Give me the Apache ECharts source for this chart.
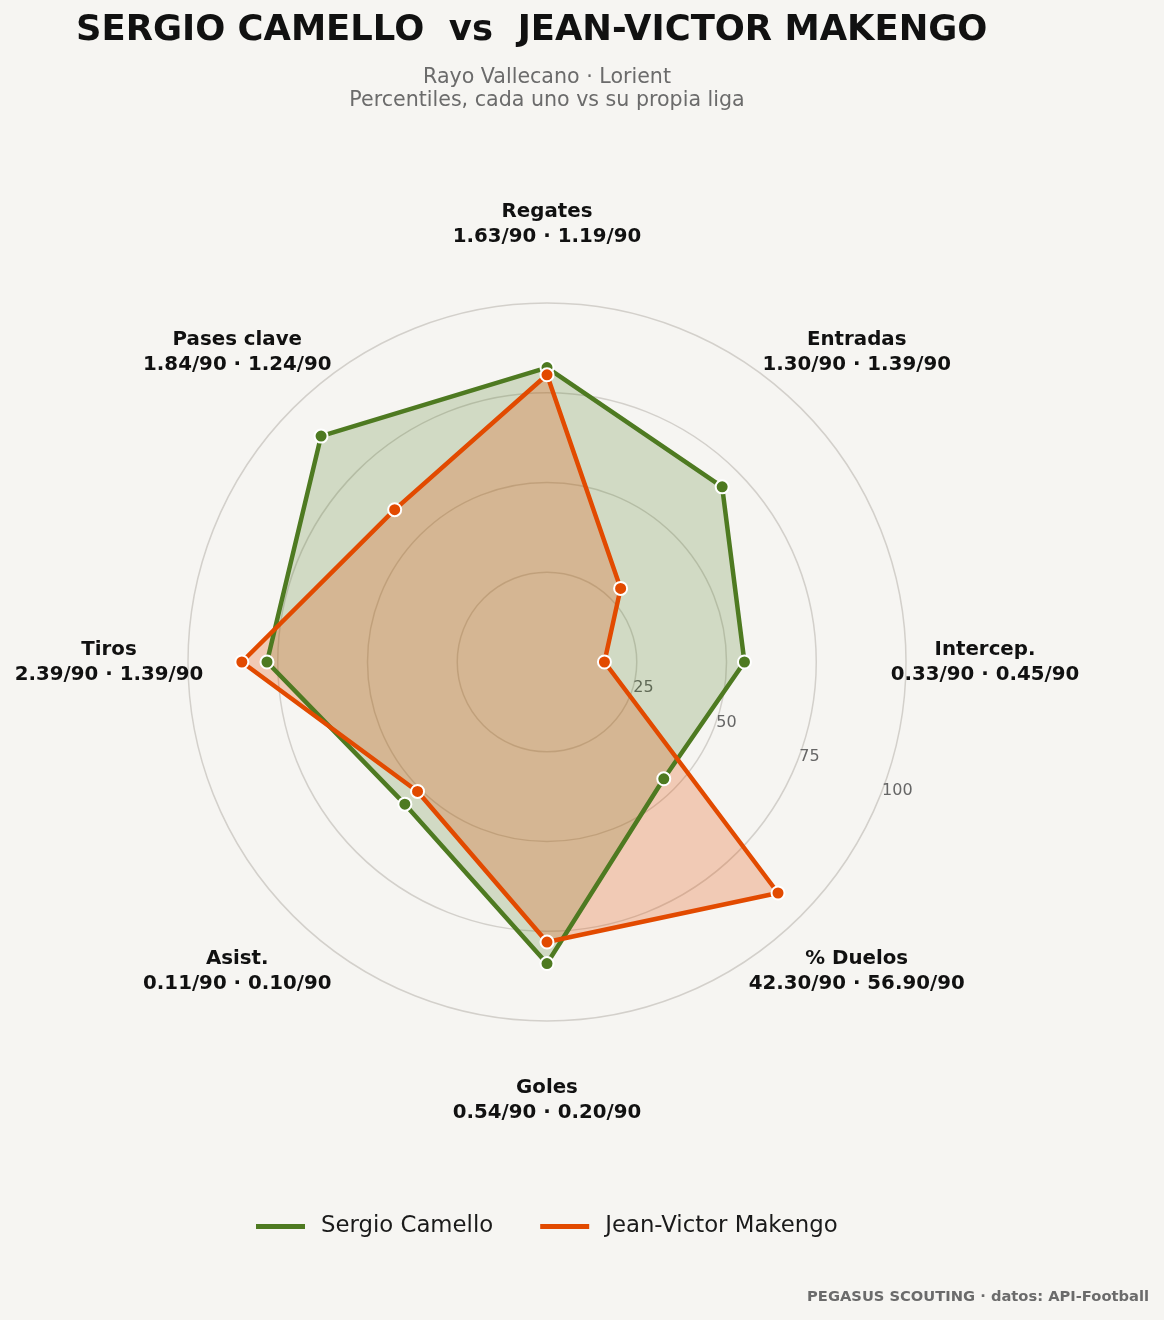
<!DOCTYPE html>
<html>
<head>
<meta charset="utf-8">
<script src="https://cdn.jsdelivr.net/npm/echarts@6/dist/echarts.min.js"></script>
<style>
    html, body { margin: 0; padding: 0; background: #f6f5f2; }
    #chart { width: 1164px; height: 1320px; }
</style>
</head>
<body>
<div id="chart"></div>
<script>
'use strict';

// clockwise from the top
var categories = ['Regates', 'Entradas', 'Intercep.', '% Duelos', 'Goles', 'Asist.', 'Tiros', 'Pases clave'];
var camelloPct = [82, 69, 55, 46, 84, 56, 78, 89];
var makengoPct = [80, 29, 16, 91, 78, 51, 85, 60];
var camelloPer90 = ['1.63', '1.30', '0.33', '42.30', '0.54', '0.11', '2.39', '1.84'];
var makengoPer90 = ['1.19', '1.39', '0.45', '56.90', '0.20', '0.10', '1.39', '1.24'];
var players = ['Sergio Camello', 'Jean-Victor Makengo'];

var GREEN = '#4e7a21';
var ORANGE = '#e24a00';
var FONT = 'DejaVu Sans';
var CENTER = [547, 662];

// radar lays indicators out counter-clockwise, so flip everything after the first
function ccw(arr) {
    return [arr[0]].concat(arr.slice(1).reverse());
}

// fills go underneath, outlines + markers on top of both fills
function areaSeries(name, color, opacity, values) {
    return {
        name: name + ' (area)',
        type: 'radar',
        symbol: 'none',
        silent: true,
        lineStyle: { width: 0, opacity: 0 },
        areaStyle: { color: color, opacity: opacity },
        z: 1,
        data: [{ value: ccw(values) }]
    };
}

function lineSeries(name, color, values, z) {
    return {
        name: name,
        type: 'radar',
        symbol: 'circle',
        symbolSize: 13,
        itemStyle: { color: color, borderColor: '#fff', borderWidth: 2 },
        lineStyle: { color: color, width: 4.5 },
        z: z,
        data: [{ name: name, value: ccw(values) }]
    };
}

var chart = echarts.init(document.getElementById('chart'));

var option = {
    backgroundColor: '#f6f5f2',
    animation: false,
    textStyle: { fontFamily: FONT },
    graphic: [
        {
            type: 'text', x: 76, y: 31,
            style: {
                text: 'SERGIO CAMELLO  vs  JEAN-VICTOR MAKENGO',
                font: 'bold 35.4px "DejaVu Sans"', fill: '#111',
                align: 'left', verticalAlign: 'middle'
            }
        },
        {
            type: 'text', x: 547, y: 89,
            style: {
                text: 'Rayo Vallecano · Lorient\nPercentiles, cada uno vs su propia liga',
                font: '20.6px "DejaVu Sans"', fill: '#6b6b6b', lineHeight: 23,
                align: 'center', verticalAlign: 'middle'
            }
        },
        {
            type: 'text', x: 1149, y: 1297,
            style: {
                text: 'PEGASUS SCOUTING · datos: API-Football',
                font: 'bold 14.7px "DejaVu Sans"', fill: '#6b6b6b',
                align: 'right', verticalAlign: 'middle'
            }
        }
    ],
    legend: {
        data: players,
        left: 256,
        top: 1215,
        padding: 0,
        icon: 'rect',
        itemWidth: 49,
        itemHeight: 5,
        itemGap: 47,
        itemStyle: { borderWidth: 0 },
        textStyle: { fontFamily: FONT, fontSize: 22.8, color: '#1a1a1a', padding: [0, 0, 0, 11] }
    },
    radar: {
        center: CENTER,
        radius: 359,
        startAngle: 90,
        shape: 'circle',
        splitNumber: 4,
        indicator: ccw(categories).map(function (c) {
            return { name: c, min: 0, max: 100 };
        }),
        axisName: { show: false },
        axisLine: { show: false },
        axisTick: { show: false },
        axisLabel: { show: false },
        splitArea: { show: false },
        splitLine: { lineStyle: { color: '#d3d0cb', width: 1.5 } }
    },
    polar: [
        { center: CENTER, radius: 359 },
        { center: CENTER, radius: 438 }
    ],
    angleAxis: [
        { polarIndex: 0, type: 'value', startAngle: -22.5, show: false },
        {
            polarIndex: 1, type: 'category', data: categories, boundaryGap: false,
            startAngle: 90, clockwise: true, show: false
        }
    ],
    radiusAxis: [
        {
            polarIndex: 0, min: 0, max: 100, interval: 25,
            axisLine: { show: false }, axisTick: { show: false }, splitLine: { show: false },
            axisLabel: {
                color: '#666', fontSize: 16, fontFamily: FONT, margin: 9,
                formatter: function (v) { return v === 0 ? '' : String(v); }
            }
        },
        { polarIndex: 1, min: 0, max: 100, show: false }
    ],
    series: [
        areaSeries(players[0], GREEN, 0.22, camelloPct),
        areaSeries(players[1], ORANGE, 0.25, makengoPct),
        lineSeries(players[0], GREEN, camelloPct, 2),
        lineSeries(players[1], ORANGE, makengoPct, 3),
        {
            // indicator names, centred on a ring outside the grid
            type: 'scatter',
            coordinateSystem: 'polar',
            polarIndex: 1,
            symbolSize: 0,
            silent: true,
            itemStyle: { opacity: 1 },
            data: categories.map(function (c) {
                return [100, c];
            }),
            label: {
                show: true,
                position: 'inside',
                color: '#111',
                textBorderWidth: 0,
                formatter: function (p) {
                    var i = p.dataIndex;
                    return '{n|' + categories[i] + '}\n{v|' + camelloPer90[i] + '/90 · ' + makengoPer90[i] + '/90}';
                },
                rich: {
                    n: { fontFamily: FONT, fontWeight: 'bold', fontSize: 19.8, color: '#111', lineHeight: 25, align: 'center' },
                    v: { fontFamily: FONT, fontWeight: 'bold', fontSize: 19.8, color: '#111', lineHeight: 25, align: 'center' }
                }
            }
        }
    ]
};

chart.setOption(option);
</script>
</body>
</html>
